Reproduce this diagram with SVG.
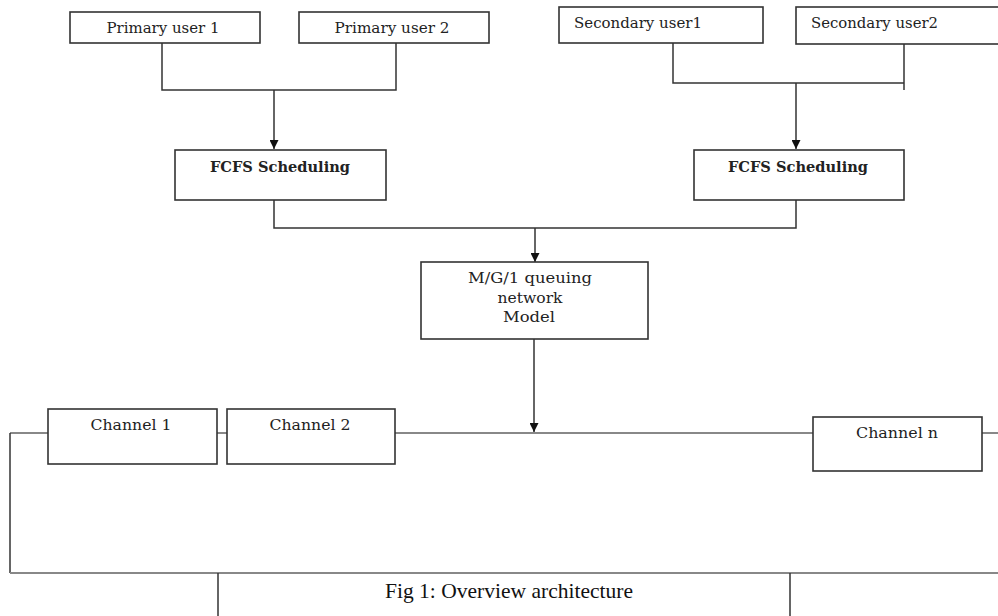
<svg xmlns="http://www.w3.org/2000/svg" width="998" height="616" viewBox="0 0 998 616">
<style>
.box{fill:#fff;stroke:#333;stroke-width:1.6}
.ln{fill:none;stroke:#333;stroke-width:1.5}
.bus{fill:none;stroke:#888;stroke-width:2.2}
.t{font-family:"DejaVu Serif","Liberation Serif",serif;font-size:14px;fill:#222}
.b{font-weight:bold}
.cap{font-family:"Liberation Serif",serif;font-size:21px;fill:#111}
</style>
<defs>
<marker id="ah" viewBox="0 0 10 10" refX="10" refY="5" markerWidth="9" markerHeight="9" markerUnits="userSpaceOnUse" orient="auto">
<path d="M0,0 L10,5 L0,10 Z" fill="#111"/>
</marker>
</defs>
<rect width="998" height="616" fill="#fff"/>
<g id="connectors">
<polyline class="ln" points="162,43 162,90 396,90 396,43"/>
<line class="ln" x1="274" y1="90" x2="274" y2="149" marker-end="url(#ah)"/>
<polyline class="ln" points="673,43 673,83 904,83"/>
<line class="ln" x1="904" y1="44" x2="904" y2="90"/>
<line class="ln" x1="796" y1="83" x2="796" y2="149" marker-end="url(#ah)"/>
<polyline class="ln" points="274,200 274,228 796,228 796,200"/>
<line class="ln" x1="535" y1="228" x2="535" y2="262" marker-end="url(#ah)"/>
<line class="ln" x1="534" y1="339" x2="534" y2="432" marker-end="url(#ah)"/>
<line class="bus" x1="10" y1="433" x2="998" y2="433"/>
<line class="ln" x1="10" y1="433" x2="10" y2="573"/>
<line class="bus" x1="10" y1="573" x2="998" y2="573"/>
<line class="ln" x1="218" y1="573" x2="218" y2="616"/>
<line class="ln" x1="790" y1="573" x2="790" y2="616"/>
</g>
<g id="pu1"><rect class="box" x="70" y="12" width="190" height="31"/><text class="t" x="163" y="33" text-anchor="middle" textLength="113" lengthAdjust="spacingAndGlyphs">Primary user 1</text></g>
<g id="pu2"><rect class="box" x="299" y="12" width="190" height="31"/><text class="t" x="392" y="33" text-anchor="middle" textLength="115" lengthAdjust="spacingAndGlyphs">Primary user 2</text></g>
<g id="su1"><rect class="box" x="559" y="7" width="204" height="36"/><text class="t" x="574" y="28" textLength="128" lengthAdjust="spacingAndGlyphs">Secondary user1</text></g>
<g id="su2"><rect class="box" x="796" y="7" width="210" height="37"/><text class="t" x="811" y="28" textLength="127" lengthAdjust="spacingAndGlyphs">Secondary user2</text></g>
<g id="fcfs1"><rect class="box" x="175" y="150" width="211" height="50"/><text class="t b" x="280" y="172" text-anchor="middle" textLength="140" lengthAdjust="spacingAndGlyphs">FCFS Scheduling</text></g>
<g id="fcfs2"><rect class="box" x="694" y="150" width="210" height="50"/><text class="t b" x="798" y="172" text-anchor="middle" textLength="140" lengthAdjust="spacingAndGlyphs">FCFS Scheduling</text></g>
<g id="mg1"><rect class="box" x="421" y="262" width="227" height="77"/>
<text class="t" x="530" y="283" text-anchor="middle" textLength="124" lengthAdjust="spacingAndGlyphs">M/G/1 queuing</text>
<text class="t" x="530" y="303" text-anchor="middle" textLength="65" lengthAdjust="spacingAndGlyphs">network</text>
<text class="t" x="529" y="322" text-anchor="middle" textLength="52" lengthAdjust="spacingAndGlyphs">Model</text></g>
<g id="ch1"><rect class="box" x="48" y="409" width="169" height="55"/><text class="t" x="131" y="430" text-anchor="middle" textLength="81" lengthAdjust="spacingAndGlyphs">Channel 1</text></g>
<g id="ch2"><rect class="box" x="227" y="409" width="168" height="55"/><text class="t" x="310" y="430" text-anchor="middle" textLength="81" lengthAdjust="spacingAndGlyphs">Channel 2</text></g>
<g id="chn"><rect class="box" x="813" y="417" width="169" height="54"/><text class="t" x="897" y="438" text-anchor="middle" textLength="82" lengthAdjust="spacingAndGlyphs">Channel n</text></g>
<g id="caption"><text class="cap" x="509" y="598" text-anchor="middle" textLength="248" lengthAdjust="spacingAndGlyphs">Fig 1: Overview architecture</text></g>
</svg>
